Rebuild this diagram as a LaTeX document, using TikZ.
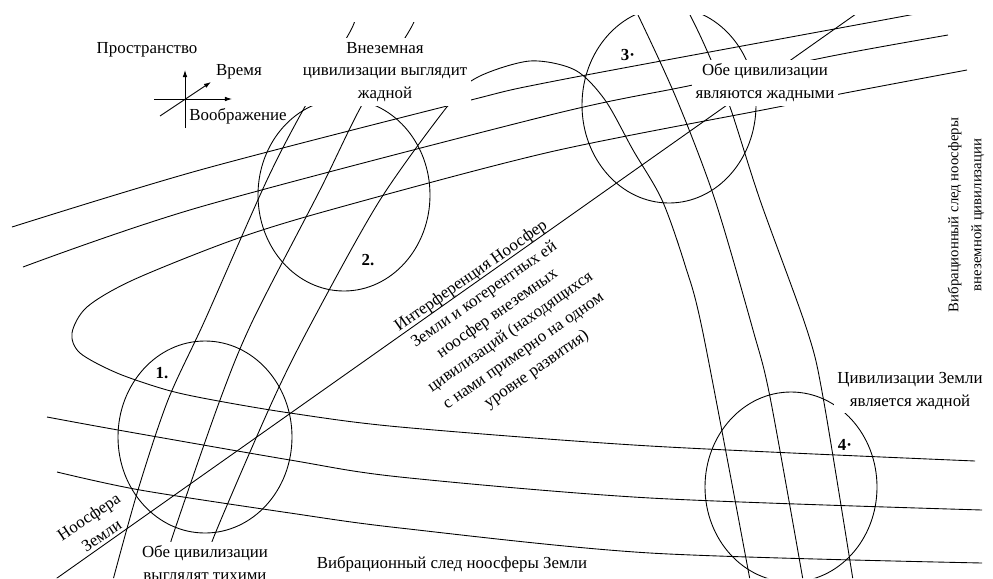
\documentclass[tikz,border=0pt]{standalone}
\usepackage{fontspec}
\setmainfont{Liberation Serif}
\usetikzlibrary{arrows.meta}

\begin{document}
\begin{tikzpicture}[x=0.02cm,y=-0.02cm,line width=0.5pt,
		lbl/.style={font=\fontsize{9.6}{13}\selectfont,align=center,inner sep=1pt},
		box/.style={lbl,fill=white,inner sep=2pt},
		num/.style={font=\fontsize{9.6}{13}\selectfont\bfseries,inner sep=0pt},
		axis/.style={-{Latex[length=4pt,width=2.6pt]}}]
		\useasboundingbox (0,0) rectangle (993,578);
		\begin{scope}
		\clip (0,22)--(560,22)--(560,15)--(993,15)--(993,578)--(0,578)--cycle;
		\draw (205,437) ellipse [x radius=87, y radius=96];
		\draw (344,195) ellipse [x radius=86, y radius=96];
		\draw (669,105) ellipse [x radius=87, y radius=98];
		\draw (791,487) ellipse [x radius=86, y radius=95];
		\draw (50,583)--(880,-3);
		\draw plot[smooth] coordinates {(12,227) (200,170) (463,102) (560,80) (910,15) (960,5)};
		\draw plot[smooth] coordinates {(23,267) (200,207) (550,115) (688,86) (837,55) (948,35)};
		\draw plot[smooth] coordinates {(967,70) (840,94) (778,107) (550,152) (330,210) (233,240) (133,280) (87,307) (72,333) (80,353) (117,373) (167,390) (213,400) (290,413) (400,427) (650,446) (975,461)};
		\draw plot[smooth] coordinates {(47,417) (118,430) (290,460) (400,477) (650,498) (982,510)};
		\draw plot[smooth] coordinates {(57,472) (140,490) (290,513) (400,528) (650,553) (982,563)};
		\draw plot[smooth] coordinates {(113,580) (138,490) (168,400) (205,320) (267,180) (307,103) (352,28) (380,-40) (530,-110) (660,-40) (690,15) (708,53) (730,107) (760,200) (807,330) (823,397) (853,580)};
		\draw plot[smooth] coordinates {(160,580) (173,535) (220,400) (253,320) (320,190) (363,103) (412,26) (440,-40) (530,-90) (610,-40) (638,15) (677,100) (715,200) (753,330) (770,397) (803,580)};
		\draw plot[smooth] coordinates {(200,580) (215,534) (273,400) (313,320) (380,200) (450,103) (478,77) (530,61) (575,70) (605,100) (633,150) (662,200) (685,265) (703,333) (750,580)};
		\end{scope}
		\draw[axis] (185,128)--(185,70);
		\draw[axis] (154,99)--(232,99);
		\draw[axis] (160,116)--(211,82);
		\node[lbl] (space) at (147,50) {Пространство};
		\node[lbl] (time) at (239,72) {Время};
		\node[lbl] (imag) at (238,116) {Воображение};
		\node[box] (alien) at (385,72) {Внеземная\\цивилизации выглядит\\жадной};
		\node[box] (both) at (765,83) {Обе цивилизации\\являются жадными};
		\node[box] (earth) at (910,391) {Цивилизации Земли\\является жадной};
		\node[box] (quiet) at (205,565) {Обе цивилизации\\выглядят тихими};
		\node[lbl] (trace) at (452,564) {Вибрационный след ноосферы Земли};
		\node[lbl,rotate=90,font=\fontsize{8.4}{13}\selectfont] (alientrace) at (966,215) {Вибрационный след ноосферы\\внеземной цивилизации};
		\node[lbl,rotate=35] (interf) at (504,323) {Интерференция Ноосфер\\Земли и когерентных ей\\ноосфер внеземных\\цивилизаций (находящихся\\с нами примерно на одном\\уровне развития)};
		\node[lbl,rotate=34] (noo) at (95,526) {Ноосфера\\Земли};
		\node[num] (n1) at (162,373) {1.};
		\node[num] (n2) at (368,260) {2.};
		\node[num] (n3) at (628,55) {3·};
		\node[num] (n4) at (845,445) {4·};
\end{tikzpicture}
\end{document}
